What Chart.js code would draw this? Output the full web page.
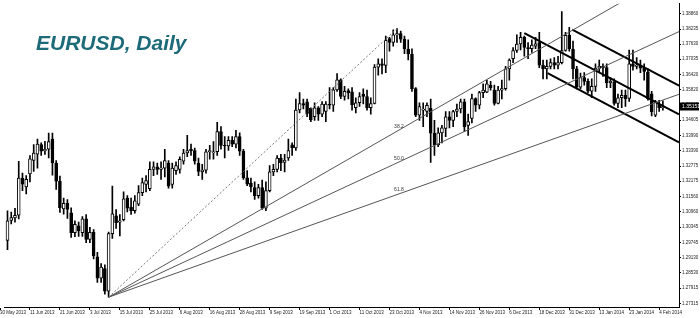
<!DOCTYPE html>
<html>
<head>
<meta charset="utf-8">
<script src="https://cdn.jsdelivr.net/npm/chart.js"></script>
<style>
  html, body { margin: 0; padding: 0; background: #fff; }
  #wrap { width: 700px; height: 318px; position: relative; }
</style>
</head>
<body>
<div id="wrap"><canvas id="chart"></canvas></div>
<script>
// EURUSD daily bars, 3 Jun 2013 .. 5 Feb 2014 (one value per trading day)
const opens = [
  1.2982, 1.3062, 1.3072, 1.3082, 1.3230, 1.3195, 1.3247, 1.3300, 1.3325, 1.3363,
  1.3338, 1.3345, 1.3385, 1.3290, 1.3218, 1.3107, 1.3131, 1.3092, 1.3013, 1.3040,
  1.3013, 1.3068, 1.2986, 1.3014, 1.2917, 1.2832, 1.2870, 1.2780, 1.3009, 1.3080,
  1.3055, 1.3065, 1.3150, 1.3115, 1.3100, 1.3126, 1.3172, 1.3205, 1.3188, 1.3265,
  1.3275, 1.3265, 1.3270, 1.3290, 1.3205, 1.3260, 1.3265, 1.3297, 1.3330, 1.3345,
  1.3340, 1.3290, 1.3255, 1.3262, 1.3335, 1.3330, 1.3335, 1.3415, 1.3360, 1.3358,
  1.3380, 1.3365, 1.3395, 1.3337, 1.3231, 1.3210, 1.3192, 1.3160, 1.3192, 1.3110,
  1.3180, 1.3255, 1.3265, 1.3310, 1.3292, 1.3310, 1.3362, 1.3350, 1.3501, 1.3527,
  1.3534, 1.3508, 1.3475, 1.3510, 1.3485, 1.3495, 1.3525, 1.3520, 1.3581, 1.3621,
  1.3555, 1.3578, 1.3573, 1.3510, 1.3530, 1.3565, 1.3555, 1.3510, 1.3527, 1.3672,
  1.3685, 1.3679, 1.3785, 1.3770, 1.3800, 1.3805, 1.3783, 1.3744, 1.3724, 1.3586,
  1.3481, 1.3500, 1.3495, 1.3508, 1.3409, 1.3362, 1.3410, 1.3428, 1.3474, 1.3460,
  1.3495, 1.3505, 1.3534, 1.3440, 1.3468, 1.3547, 1.3520, 1.3570, 1.3572, 1.3600,
  1.3580, 1.3527, 1.3580, 1.3586, 1.3665, 1.3705, 1.3738, 1.3764, 1.3790, 1.3750,
  1.3745, 1.3755, 1.3770, 1.3680, 1.3665, 1.3675, 1.3690, 1.3680, 1.3690, 1.3738,
  1.3798, 1.3744, 1.3665, 1.3592, 1.3630, 1.3615, 1.3576, 1.3595, 1.3668, 1.3675,
  1.3670, 1.3610, 1.3613, 1.3527, 1.3550, 1.3560, 1.3547, 1.3685, 1.3675, 1.3680,
  1.3668, 1.3652, 1.3566, 1.3481, 1.3525, 1.3510
];
const highs = [
  1.3100, 1.3095, 1.3110, 1.3297, 1.3250, 1.3240, 1.3320, 1.3363, 1.3385, 1.3370,
  1.3376, 1.3409, 1.3409, 1.3300, 1.3238, 1.3150, 1.3145, 1.3112, 1.3060, 1.3055,
  1.3077, 1.3085, 1.3034, 1.3025, 1.2935, 1.2890, 1.2885, 1.3015, 1.3198, 1.3105,
  1.3085, 1.3175, 1.3160, 1.3150, 1.3160, 1.3200, 1.3230, 1.3240, 1.3295, 1.3295,
  1.3290, 1.3295, 1.3345, 1.3300, 1.3290, 1.3295, 1.3315, 1.3345, 1.3400, 1.3365,
  1.3350, 1.3310, 1.3285, 1.3345, 1.3360, 1.3375, 1.3452, 1.3435, 1.3395, 1.3395,
  1.3395, 1.3420, 1.3410, 1.3345, 1.3260, 1.3230, 1.3215, 1.3205, 1.3222, 1.3215,
  1.3280, 1.3285, 1.3320, 1.3325, 1.3325, 1.3385, 1.3370, 1.3545, 1.3570, 1.3545,
  1.3545, 1.3510, 1.3530, 1.3515, 1.3535, 1.3535, 1.3590, 1.3590, 1.3646, 1.3625,
  1.3595, 1.3585, 1.3590, 1.3550, 1.3570, 1.3585, 1.3580, 1.3550, 1.3682, 1.3705,
  1.3705, 1.3795, 1.3790, 1.3820, 1.3825, 1.3815, 1.3795, 1.3780, 1.3745, 1.3590,
  1.3530, 1.3530, 1.3530, 1.3545, 1.3460, 1.3430, 1.3440, 1.3495, 1.3495, 1.3500,
  1.3525, 1.3545, 1.3545, 1.3485, 1.3565, 1.3550, 1.3575, 1.3605, 1.3620, 1.3615,
  1.3600, 1.3595, 1.3620, 1.3675, 1.3705, 1.3750, 1.3800, 1.3810, 1.3795, 1.3770,
  1.3780, 1.3790, 1.3810, 1.3700, 1.3700, 1.3705, 1.3710, 1.3715, 1.3893, 1.3810,
  1.3830, 1.3775, 1.3675, 1.3648, 1.3650, 1.3625, 1.3625, 1.3685, 1.3700, 1.3685,
  1.3685, 1.3630, 1.3625, 1.3565, 1.3580, 1.3580, 1.3740, 1.3740, 1.3710, 1.3700,
  1.3685, 1.3665, 1.3575, 1.3540, 1.3540, 1.3538
];
const lows = [
  1.2945, 1.3048, 1.3055, 1.3068, 1.3180, 1.3167, 1.3215, 1.3257, 1.3270, 1.3320,
  1.3324, 1.3310, 1.3242, 1.3185, 1.3093, 1.3086, 1.3070, 1.2994, 1.2997, 1.2998,
  1.2998, 1.2973, 1.2973, 1.2908, 1.2815, 1.2815, 1.2768, 1.2756, 1.2990, 1.3030,
  1.3000, 1.3060, 1.3095, 1.3085, 1.3090, 1.3120, 1.3160, 1.3175, 1.3180, 1.3240,
  1.3245, 1.3225, 1.3235, 1.3190, 1.3190, 1.3245, 1.3250, 1.3285, 1.3315, 1.3320,
  1.3285, 1.3240, 1.3225, 1.3250, 1.3305, 1.3305, 1.3320, 1.3345, 1.3310, 1.3340,
  1.3355, 1.3350, 1.3320, 1.3225, 1.3200, 1.3175, 1.3145, 1.3150, 1.3105, 1.3100,
  1.3175, 1.3240, 1.3255, 1.3260, 1.3255, 1.3300, 1.3320, 1.3340, 1.3490, 1.3505,
  1.3475, 1.3455, 1.3460, 1.3460, 1.3475, 1.3455, 1.3505, 1.3495, 1.3575, 1.3546,
  1.3540, 1.3545, 1.3500, 1.3490, 1.3515, 1.3525, 1.3500, 1.3485, 1.3525, 1.3640,
  1.3645, 1.3650, 1.3735, 1.3755, 1.3770, 1.3770, 1.3725, 1.3700, 1.3575, 1.3475,
  1.3460, 1.3435, 1.3475, 1.3292, 1.3320, 1.3355, 1.3370, 1.3395, 1.3430, 1.3435,
  1.3475, 1.3490, 1.3415, 1.3400, 1.3450, 1.3495, 1.3505, 1.3550, 1.3570, 1.3580,
  1.3520, 1.3525, 1.3545, 1.3580, 1.3620, 1.3690, 1.3730, 1.3740, 1.3715, 1.3705,
  1.3730, 1.3745, 1.3670, 1.3625, 1.3625, 1.3665, 1.3665, 1.3665, 1.3685, 1.3735,
  1.3735, 1.3625, 1.3585, 1.3585, 1.3600, 1.3570, 1.3550, 1.3575, 1.3650, 1.3635,
  1.3590, 1.3590, 1.3520, 1.3510, 1.3510, 1.3515, 1.3535, 1.3660, 1.3665, 1.3650,
  1.3620, 1.3540, 1.3478, 1.3475, 1.3495, 1.3500
];
const closes = [
  1.3060, 1.3073, 1.3082, 1.3230, 1.3206, 1.3225, 1.3307, 1.3330, 1.3365, 1.3337,
  1.3345, 1.3375, 1.3290, 1.3218, 1.3112, 1.3130, 1.3105, 1.3013, 1.3046, 1.3020,
  1.3068, 1.2986, 1.3014, 1.2920, 1.2832, 1.2876, 1.2780, 1.3009, 1.3088, 1.3053,
  1.3060, 1.3148, 1.3110, 1.3100, 1.3140, 1.3172, 1.3212, 1.3220, 1.3265, 1.3275,
  1.3265, 1.3270, 1.3300, 1.3198, 1.3270, 1.3280, 1.3305, 1.3330, 1.3340, 1.3338,
  1.3297, 1.3257, 1.3262, 1.3335, 1.3340, 1.3335, 1.3415, 1.3360, 1.3358, 1.3380,
  1.3365, 1.3395, 1.3337, 1.3231, 1.3206, 1.3195, 1.3159, 1.3192, 1.3110, 1.3180,
  1.3255, 1.3265, 1.3310, 1.3290, 1.3302, 1.3340, 1.3350, 1.3501, 1.3527, 1.3520,
  1.3488, 1.3462, 1.3510, 1.3485, 1.3525, 1.3525, 1.3520, 1.3581, 1.3621, 1.3555,
  1.3575, 1.3570, 1.3522, 1.3530, 1.3555, 1.3555, 1.3510, 1.3527, 1.3672, 1.3685,
  1.3679, 1.3778, 1.3770, 1.3800, 1.3805, 1.3783, 1.3744, 1.3724, 1.3586, 1.3481,
  1.3515, 1.3505, 1.3520, 1.3409, 1.3362, 1.3410, 1.3430, 1.3474, 1.3460, 1.3495,
  1.3505, 1.3534, 1.3435, 1.3455, 1.3547, 1.3520, 1.3570, 1.3580, 1.3605, 1.3590,
  1.3527, 1.3580, 1.3586, 1.3665, 1.3700, 1.3738, 1.3764, 1.3790, 1.3750, 1.3745,
  1.3760, 1.3765, 1.3680, 1.3665, 1.3675, 1.3690, 1.3680, 1.3690, 1.3738, 1.3798,
  1.3745, 1.3665, 1.3592, 1.3630, 1.3615, 1.3576, 1.3595, 1.3668, 1.3675, 1.3670,
  1.3610, 1.3615, 1.3527, 1.3550, 1.3560, 1.3545, 1.3685, 1.3675, 1.3680, 1.3668,
  1.3655, 1.3546, 1.3494, 1.3533, 1.3510, 1.3515
];

// labels under the time axis, one every 8 bars starting 2 bars before the first one
const dateTicks = [
  '30 May 2013', '11 Jun 2013', '21 Jun 2013', '3 Jul 2013', '15 Jul 2013',
  '25 Jul 2013', '6 Aug 2013', '16 Aug 2013', '28 Aug 2013', '9 Sep 2013',
  '19 Sep 2013', '1 Oct 2013', '11 Oct 2013', '23 Oct 2013', '4 Nov 2013',
  '14 Nov 2013', '26 Nov 2013', '6 Dec 2013', '18 Dec 2013', '31 Dec 2013',
  '13 Jan 2014', '23 Jan 2014', '4 Feb 2014'
];

// price labels on the right side
const priceTicks = [
  1.38860, 1.38235, 1.37630, 1.37035, 1.36420, 1.35820, 1.35205, 1.34605,
  1.33990, 1.33390, 1.32775, 1.32175, 1.31560, 1.30960, 1.30345, 1.29745,
  1.29130, 1.28530, 1.27915, 1.27315
];
const lastPrice = 1.35151;

// fibonacci fan: swing low and swing high as [bar, price]
const fanLow = [27, 1.2756];
const fanHigh = [104, 1.3825];
const fanLevels = [38.2, 50.0, 61.8];

// falling channel, [bar, price] at both ends
const channelUpper = [[150.8, 1.3821], [179.3, 1.3598]];
const channelMiddle = [[138.0, 1.3807], [179.3, 1.3484]];
const channelLower = [[144.2, 1.3648], [179.3, 1.3372]];

const xMin = -0.77;
const xMax = 179.3;

const bodyColors = opens.map((o, i) => closes[i] >= o ? '#ffffff' : '#000000');

const fanData = fanLevels.map(lv => {
  const level = fanHigh[1] - (fanHigh[1] - fanLow[1]) * lv / 100;
  const slope = (level - fanLow[1]) / (fanHigh[0] - fanLow[0]);
  return {
    level: level,
    points: [{x: fanLow[0], y: fanLow[1]}, {x: xMax, y: fanLow[1] + slope * (xMax - fanLow[0])}]
  };
});

function lineSet(points, color, width, dash) {
  return {
    type: 'line',
    data: points,
    borderColor: color,
    borderWidth: width,
    borderDash: dash || [],
    pointRadius: 0,
    fill: false,
    tension: 0,
    order: 1
  };
}
const toPts = arr => arr.map(p => ({x: p[0], y: p[1]}));

// title, fan labels and the price box are painted on top
const overlay = {
  id: 'overlay',
  afterDraw(chart) {
    const ctx = chart.ctx;
    const xs = chart.scales.x;
    const ys = chart.scales.y;
    ctx.save();

    ctx.font = 'italic bold 21px "Liberation Sans", Arial, sans-serif';
    ctx.fillStyle = '#1d6b79';
    ctx.textBaseline = 'alphabetic';
    ctx.fillText('EURUSD, Daily', 36, 50);

    ctx.font = '5px "Liberation Sans", Arial, sans-serif';
    ctx.fillStyle = '#333';
    ctx.textAlign = 'center';
    ctx.textBaseline = 'bottom';
    fanData.forEach((f, k) => {
      ctx.fillText(fanLevels[k].toFixed(1), xs.getPixelForValue(fanHigh[0]) + 2, ys.getPixelForValue(f.level) - 2);
    });

    const py = ys.getPixelForValue(lastPrice);
    ctx.fillStyle = '#000';
    ctx.fillRect(chart.chartArea.right + 1, py - 4, 19, 8);
    ctx.fillStyle = '#fff';
    ctx.textAlign = 'left';
    ctx.textBaseline = 'middle';
    ctx.fillText(lastPrice.toFixed(5), chart.chartArea.right + 3, py + 0.5);
    ctx.restore();
  }
};

new Chart(document.getElementById('chart'), {
  type: 'bar',
  data: {
    datasets: [
      {
        label: 'wicks',
        data: opens.map((o, i) => ({x: i, y: [lows[i], highs[i]]})),
        backgroundColor: '#000',
        borderWidth: 0,
        barThickness: 1,
        grouped: false,
        order: 3
      },
      {
        label: 'bodies',
        data: opens.map((o, i) => ({x: i, y: [o, closes[i]]})),
        backgroundColor: bodyColors,
        borderColor: '#000',
        borderWidth: 1,
        borderSkipped: false,
        barThickness: 3,
        grouped: false,
        order: 2
      },
      lineSet([{x: fanLow[0], y: fanLow[1]}, {x: fanHigh[0], y: fanHigh[1]}], '#777', 1, [2, 2]),
      ...fanData.map(f => lineSet(f.points, '#555', 1)),
      lineSet(toPts(channelUpper), '#000', 2),
      lineSet(toPts(channelMiddle), '#000', 2),
      lineSet(toPts(channelLower), '#000', 2)
    ]
  },
  options: {
    responsive: true,
    maintainAspectRatio: false,
    animation: false,
    devicePixelRatio: 1,
    layout: { padding: { top: 1, left: 0, right: 0, bottom: 0 } },
    plugins: { legend: { display: false }, tooltip: { enabled: false }, title: { display: false } },
    scales: {
      x: {
        type: 'linear',
        offset: false,
        min: xMin,
        max: xMax,
        bounds: 'data',
        grid: { display: true, offset: false, drawOnChartArea: false, drawTicks: true, tickLength: 3, color: '#000' },
        border: { display: true, color: '#000', width: 1 },
        afterBuildTicks: scale => {
          scale.ticks = dateTicks.map((t, k) => ({value: -2 + 8 * k}));
        },
        afterFit: scale => { scale.height = 11; },
        ticks: {
          autoSkip: false,
          maxRotation: 0,
          minRotation: 0,
          align: 'start',
          padding: 0,
          color: '#222',
          font: { family: '"Liberation Sans", Arial, sans-serif', size: 4.5 },
          callback: (v, i) => dateTicks[i]
        }
      },
      y: {
        type: 'linear',
        position: 'right',
        min: 1.27169,
        max: 1.39243,
        bounds: 'data',
        grid: { display: true, drawOnChartArea: false, drawTicks: true, tickLength: 2, color: '#000' },
        border: { display: true, color: '#000', width: 1 },
        afterBuildTicks: scale => {
          scale.ticks = priceTicks.map(v => ({value: v}));
        },
        afterFit: scale => { scale.width = 21; },
        ticks: {
          padding: 1,
          color: '#222',
          font: { family: '"Liberation Sans", Arial, sans-serif', size: 4.5 },
          callback: v => Number(v).toFixed(5)
        }
      }
    }
  },
  plugins: [overlay]
});
</script>
</body>
</html>
